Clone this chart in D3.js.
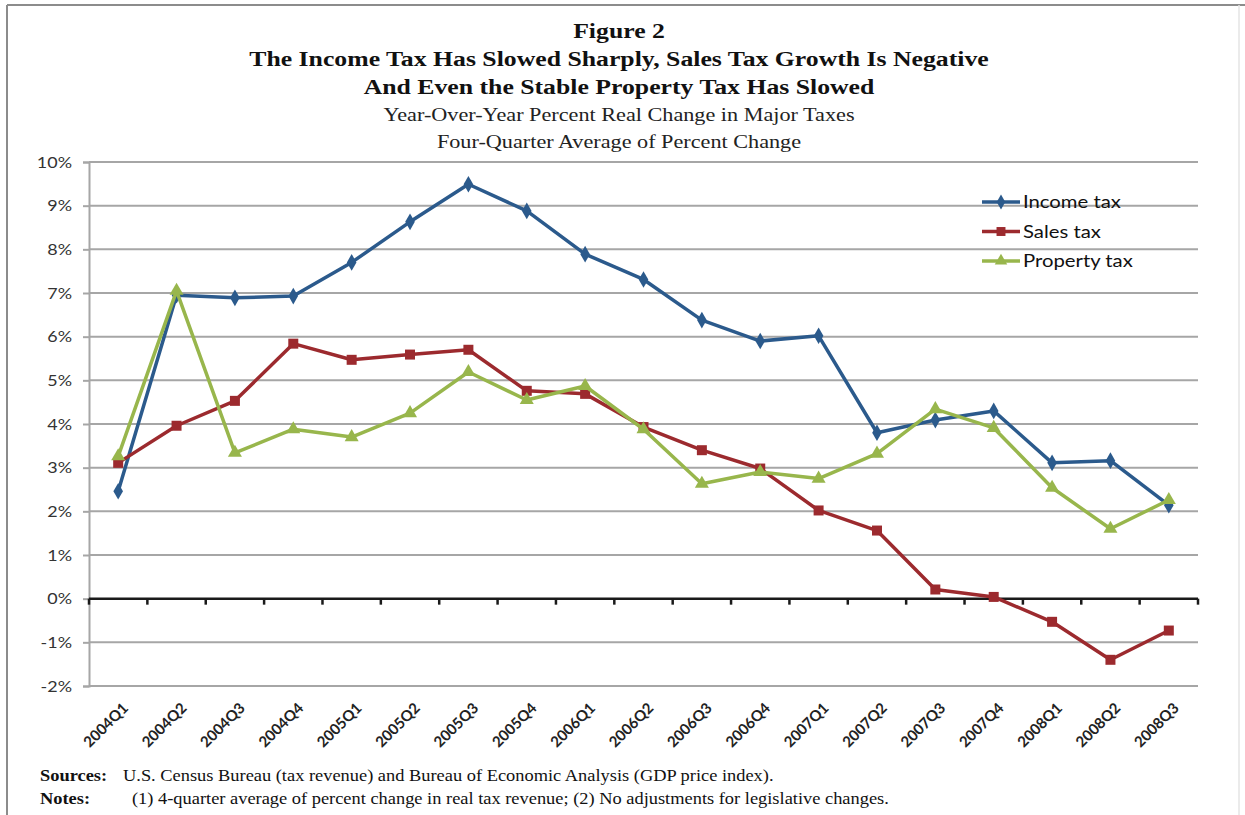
<!DOCTYPE html>
<html>
<head>
<meta charset="utf-8">
<script src="https://cdn.jsdelivr.net/npm/d3@7"></script>
<style>
  html, body { margin: 0; padding: 0; background: #fff; }
  svg { display: block; }
</style>
</head>
<body>
<svg id="chart" width="1245" height="815"></svg>
<script>
// Quarterly categories
const quarters = ["2004Q1","2004Q2","2004Q3","2004Q4","2005Q1","2005Q2","2005Q3","2005Q4",
  "2006Q1","2006Q2","2006Q3","2006Q4","2007Q1","2007Q2","2007Q3","2007Q4",
  "2008Q1","2008Q2","2008Q3"];

// Four-quarter average of year-over-year percent real change
const incomeTax   = [2.46, 6.95, 6.89, 6.93, 7.70, 8.63, 9.49, 8.88, 7.89, 7.31, 6.38, 5.90, 6.02, 3.80, 4.09, 4.30, 3.11, 3.16, 2.14];
const salesTax    = [3.11, 3.96, 4.53, 5.84, 5.47, 5.59, 5.70, 4.76, 4.69, 3.93, 3.40, 2.98, 2.02, 1.56, 0.21, 0.04, -0.53, -1.40, -0.73];
const propertyTax = [3.26, 7.05, 3.34, 3.88, 3.70, 4.25, 5.19, 4.55, 4.87, 3.88, 2.63, 2.90, 2.75, 3.32, 4.34, 3.91, 2.54, 1.60, 2.26];

const yTicks = [-2, -1, 0, 1, 2, 3, 4, 5, 6, 7, 8, 9, 10];

const seriesNames = ["Income tax", "Sales tax", "Property tax"];

const titleLines = [
  "Figure 2",
  "The Income Tax Has Slowed Sharply, Sales Tax Growth Is Negative",
  "And Even the Stable Property Tax Has Slowed"
];
const subtitleLines = [
  "Year-Over-Year Percent Real Change in Major Taxes",
  "Four-Quarter Average of Percent Change"
];

const series = [
  { name: seriesNames[0], values: incomeTax,   color: "#2b5a8c", symbol: d3.symbolDiamond, size: 80 },
  { name: seriesNames[1], values: salesTax,    color: "#9c2a2e", symbol: d3.symbolSquare,  size: 100 },
  { name: seriesNames[2], values: propertyTax, color: "#98b64c", symbol: d3.symbolTriangle, size: 85 }
];

const svg = d3.select("#chart");
const W = 1245, H = 815;
const plot = { left: 89, right: 1198, top: 162, bottom: 686 };

// Text is set a little wide, the way the figure's typefaces sit on the page
const WIDE = 1.17;
function wideText(parent, x, y, str, opts) {
  const t = parent.append("text")
    .attr("transform", `translate(${x},${y}) scale(${opts.sx || WIDE},1)`)
    .attr("text-anchor", opts.anchor || "start")
    .attr("font-family", opts.family)
    .attr("font-size", opts.size)
    .attr("fill", opts.fill || "#111")
    .text(str);
  if (opts.weight) t.attr("font-weight", opts.weight);
  return t;
}

// Outer frame
svg.append("line").attr("x1", 7).attr("x2", W).attr("y1", 5).attr("y2", 5)
  .attr("stroke", "#8c8c8c").attr("stroke-width", 2);
svg.append("line").attr("x1", 7).attr("x2", 7).attr("y1", 5).attr("y2", H)
  .attr("stroke", "#8c8c8c").attr("stroke-width", 2);
svg.append("line").attr("x1", 1239).attr("x2", 1239).attr("y1", 5).attr("y2", H)
  .attr("stroke", "#e4e4e4").attr("stroke-width", 1.5);

// Titles
const serif = "'Liberation Serif', 'Times New Roman', serif";
const cx = 619;
const titleOpts = { family: serif, size: 22, weight: "bold", anchor: "middle", fill: "#111" };
wideText(svg, cx, 38, titleLines[0], titleOpts);
wideText(svg, cx, 66, titleLines[1], titleOpts);
wideText(svg, cx, 94, titleLines[2], titleOpts);
const subOpts = { family: serif, size: 19, anchor: "middle", fill: "#222" };
wideText(svg, cx, 121, subtitleLines[0], subOpts);
wideText(svg, cx, 148, subtitleLines[1], subOpts);

// Scales
const x = d3.scalePoint().domain(quarters).range([plot.left, plot.right]).padding(0.5);
const y = d3.scaleLinear().domain([-2, 10]).range([plot.bottom, plot.top]);
const step = x.step();

const sans = "Lato, 'Open Sans', sans-serif";

// Horizontal gridlines
svg.append("g").selectAll("line").data(yTicks.filter(t => t !== 0)).join("line")
  .attr("x1", plot.left).attr("x2", plot.right)
  .attr("y1", d => y(d)).attr("y2", d => y(d))
  .attr("stroke", "#a6a6a6").attr("stroke-width", 2);

// Value axis
const yAxis = svg.append("g").attr("transform", `translate(${plot.left},0)`)
  .call(d3.axisLeft(y).tickValues(yTicks).tickFormat(d => d + "%").tickSize(6).tickPadding(11));
yAxis.select(".domain").attr("stroke", "#a6a6a6").attr("stroke-width", 2);
yAxis.selectAll(".tick line").attr("stroke", "#a6a6a6").attr("stroke-width", 2);
yAxis.selectAll(".tick text")
  .attr("font-family", sans).attr("font-size", 16).attr("fill", "#333")
  .each(function () {
    const t = d3.select(this);
    const tx = +t.attr("x");
    t.attr("x", null).attr("transform", `translate(${tx},0) scale(1.12,1)`);
  });

// Category axis along the zero line, ticks between categories
const boundaries = d3.range(quarters.length + 1).map(i => plot.left + i * step);
svg.append("line").attr("x1", plot.left).attr("x2", plot.right)
  .attr("y1", y(0)).attr("y2", y(0)).attr("stroke", "#1a1a1a").attr("stroke-width", 2.5);
svg.append("g").selectAll("line").data(boundaries).join("line")
  .attr("x1", d => d).attr("x2", d => d)
  .attr("y1", y(0)).attr("y2", y(0) + 6)
  .attr("stroke", "#1a1a1a").attr("stroke-width", 2.5);

// Category labels, rotated
svg.append("g").selectAll("text").data(quarters).join("text")
  .attr("transform", d => `translate(${x(d) + 11},${plot.bottom + 23}) rotate(-45)`)
  .attr("text-anchor", "end")
  .attr("font-family", sans).attr("font-weight", "bold").attr("font-size", 15)
  .attr("fill", "#222").text(d => d);

// Lines and markers
const line = d3.line().x((d, i) => x(quarters[i])).y(d => y(d));
series.forEach(s => {
  svg.append("path").datum(s.values)
    .attr("fill", "none").attr("stroke", s.color).attr("stroke-width", 3.5)
    .attr("stroke-linejoin", "round").attr("d", line);
  svg.append("g").selectAll("path").data(s.values).join("path")
    .attr("transform", (d, i) => `translate(${x(quarters[i])},${y(d)})`)
    .attr("d", d3.symbol().type(s.symbol).size(s.size))
    .attr("fill", s.color);
});

// Legend
const legend = svg.append("g").attr("transform", "translate(982,202)");
series.forEach((s, i) => {
  const g = legend.append("g").attr("transform", `translate(0,${i * 29.5})`);
  g.append("line").attr("x1", 0).attr("x2", 38).attr("y1", 0).attr("y2", 0)
    .attr("stroke", s.color).attr("stroke-width", 3.5);
  g.append("path").attr("transform", "translate(19,0)")
    .attr("d", d3.symbol().type(s.symbol).size(s.size * 0.8)).attr("fill", s.color);
  wideText(g, 41, 6, s.name, { family: sans, size: 17.5, fill: "#111", sx: 1.16 });
});

// Source notes
const noteOpts = { family: serif, size: 16, fill: "#111", sx: 1.15 };
wideText(svg, 40, 781, "Sources:", Object.assign({ weight: "bold" }, noteOpts));
wideText(svg, 123, 781,
  "U.S. Census Bureau (tax revenue) and Bureau of Economic Analysis (GDP price index).", noteOpts);
wideText(svg, 40, 804, "Notes:", Object.assign({ weight: "bold" }, noteOpts));
wideText(svg, 132, 804,
  "(1) 4-quarter average of percent change in real tax revenue; (2) No adjustments for legislative changes.", noteOpts);
</script>
</body>
</html>
